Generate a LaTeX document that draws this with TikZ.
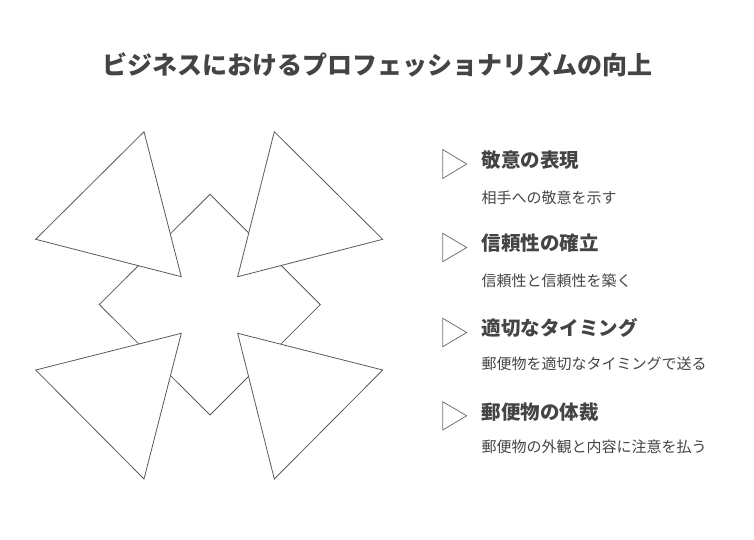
\documentclass[tikz,border=0pt]{standalone}
\usepackage{fontspec}
\setmainfont{Noto Sans CJK JP}
\definecolor{txt}{HTML}{444444}
\definecolor{ln}{HTML}{5A5A5A}
\tikzset{
  shp/.style={draw=ln, line width=0.8pt, fill=white, line join=miter},
  bullettri/.style={draw=ln!85, line width=0.8pt, fill=white},
  ttl/.style={font=\bfseries\fontsize{25}{30}\selectfont, text=txt, inner sep=0},
  head/.style={font=\bfseries\fontsize{19.5}{24}\selectfont, text=txt, anchor=west, inner sep=0},
  sub/.style={font=\fontsize{15}{18}\selectfont, text=txt, anchor=west, inner sep=0},
}
\begin{document}
\begin{tikzpicture}[x=1pt,y=-1pt]
\useasboundingbox (0,0) rectangle (754,539);
% central diamond
\draw[shp] (210,194.3) -- (320.3,304.5) -- (210,415) -- (99.3,304.5) -- cycle;
% four triangles
\draw[shp] (144,131.7) -- (181.3,276.7) -- (35.7,239.3) -- cycle;
\draw[shp] (274.3,131.7) -- (382.7,239.3) -- (237.7,276.7) -- cycle;
\draw[shp] (181.3,333.3) -- (144,479) -- (35.7,370) -- cycle;
\draw[shp] (237.7,333.3) -- (382.7,370) -- (274.3,479) -- cycle;
% title
\node[ttl] (title) at (377,65) {ビジネスにおけるプロフェッショナリズムの向上};
% markers
\draw[bullettri] (442.7,149.5) -- (466.7,164) -- (442.7,178.5) -- cycle;
\draw[bullettri] (442.7,233.3) -- (466.7,247.5) -- (442.7,261.7) -- cycle;
\draw[bullettri] (442.7,318.3) -- (466.7,332.5) -- (442.7,346.7) -- cycle;
\draw[bullettri] (442.7,401.7) -- (466.7,415.8) -- (442.7,430) -- cycle;
% headings and texts
\node[head] (h1) at (481.5,160) {敬意の表現};
\node[sub] (s1) at (481.5,197.5) {相手への敬意を示す};
\node[head] (h2) at (481.5,243.5) {信頼性の確立};
\node[sub] (s2) at (481.5,281) {信頼性と信頼性を築く};
\node[head] (h3) at (481.5,328.3) {適切なタイミング};
\node[sub] (s3) at (481.5,364) {郵便物を適切なタイミングで送る};
\node[head] (h4) at (481.5,412.5) {郵便物の体裁};
\node[sub] (s4) at (481.5,447) {郵便物の外観と内容に注意を払う};
\end{tikzpicture}
\end{document}
